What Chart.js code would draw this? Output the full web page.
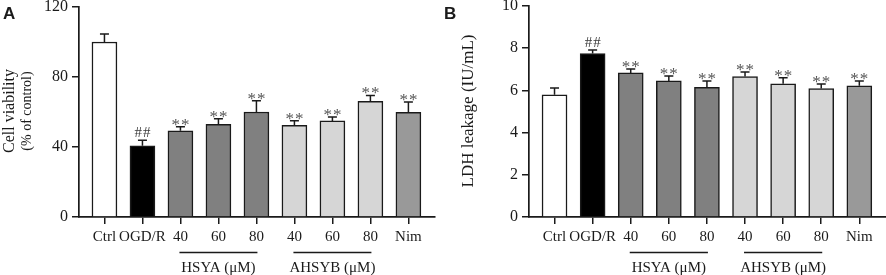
<!DOCTYPE html>
<html>
<head>
<meta charset="utf-8">
<script src="https://cdn.jsdelivr.net/npm/chart.js@4.4.0/dist/chart.umd.min.js"></script>
<style>
    html, body { margin: 0; padding: 0; background: #fff; }
    #wrap { position: relative; width: 886px; height: 275px; overflow: hidden; }
    canvas { position: absolute; top: 0; }
    #chartA { left: 0; }
    #chartB { left: 443px; }
</style>
</head>
<body>
<div id="wrap">
    <canvas id="chartA" width="443" height="275"></canvas>
    <canvas id="chartB" width="443" height="275"></canvas>
</div>
<script>
// Shared categories and bar fills
const categories = ['Ctrl', 'OGD/R', '40', '60', '80', '40', '60', '80', 'Nim'];
const barColors = ['#ffffff', '#000000', '#808080', '#808080', '#808080', '#d6d6d6', '#d6d6d6', '#d6d6d6', '#999999'];

// Panel A - cell viability (% of control)
const viabilityMeans = [100, 40.7, 49.3, 53.0, 60.0, 52.4, 54.9, 66.1, 59.8];
const viabilityErrors = [4.6, 3.1, 2.3, 3.2, 6.5, 2.6, 2.2, 3.4, 5.9];
const viabilityMarks = ['', '##', '**', '**', '**', '**', '**', '**', '**'];
const viabilityTicks = [0, 40, 80, 120];

// Panel B - LDH leakage (IU/mL)
const ldhMeans = [5.79, 7.75, 6.83, 6.45, 6.14, 6.66, 6.31, 6.09, 6.22];
const ldhErrors = [0.32, 0.16, 0.19, 0.23, 0.30, 0.21, 0.29, 0.21, 0.23];
const ldhMarks = ['', '##', '**', '**', '**', '**', '**', '**', '**'];
const ldhTicks = [0, 2, 4, 6, 8, 10];

// Treatment groups underlined below the axis
const groupLabels = ['HSYA (\u03bcM)', 'AHSYB (\u03bcM)'];
const groupFrom = [2, 5];
const groupTo = [4, 7];

const INK = '#1a1a1a';
const SERIF = "'Liberation Serif', 'Times New Roman', serif";

// draws "##" / "**" one glyph at a time so they get the loose spacing of the figure
function drawSpacedMark(ctx, mark, cx, baseline, gap) {
    const chars = mark.split('');
    const start = cx - gap * (chars.length - 1) / 2;
    chars.forEach((ch, k) => ctx.fillText(ch, start + k * gap, baseline));
}

// Error bars, significance marks, group brackets, titles
const annotatePlugin = {
    id: 'annotate',
    afterDatasetsDraw(chart, args, opts) {
        const ctx = chart.ctx;
        const xs = chart.scales.x;
        const ys = chart.scales.y;
        ctx.save();
        ctx.strokeStyle = INK;
        ctx.lineWidth = 1.5;
        ctx.textAlign = 'center';
        ctx.textBaseline = 'alphabetic';
        opts.means.forEach((m, i) => {
            const px = xs.getPixelForValue(i);
            const yBar = ys.getPixelForValue(m);
            const yErr = ys.getPixelForValue(m + opts.errors[i]);
            ctx.beginPath();
            ctx.moveTo(px, yBar);
            ctx.lineTo(px, yErr);
            ctx.moveTo(px - 4.5, yErr);
            ctx.lineTo(px + 4.5, yErr);
            ctx.stroke();

            const mark = opts.marks[i];
            if (mark === '##') {
                ctx.fillStyle = '#3c3c3c';
                ctx.font = '15px ' + SERIF;
                drawSpacedMark(ctx, mark, px, yErr - 3, 8.5);
            } else if (mark) {
                ctx.fillStyle = '#555555';
                ctx.font = '17px ' + SERIF;
                drawSpacedMark(ctx, mark, px, yErr + 3, 9.5);
            }
        });
        ctx.restore();
    },
    afterDraw(chart, args, opts) {
        const ctx = chart.ctx;
        const xs = chart.scales.x;
        ctx.save();
        ctx.fillStyle = INK;
        ctx.strokeStyle = INK;
        ctx.lineWidth = 1.4;

        // group underlines and labels
        groupLabels.forEach((label, g) => {
            const x0 = xs.getPixelForValue(groupFrom[g]);
            const x1 = xs.getPixelForValue(groupTo[g]);
            ctx.beginPath();
            ctx.moveTo(x0 - 1, 252.5);
            ctx.lineTo(x1 + 1, 252.5);
            ctx.stroke();
            ctx.font = '15px ' + SERIF;
            ctx.textAlign = 'center';
            ctx.textBaseline = 'middle';
            ctx.fillText(label, (x0 + x1) / 2, 268.5);
        });

        // rotated y titles
        opts.yTitle.forEach((t) => {
            ctx.save();
            ctx.translate(t.x, 111);
            ctx.rotate(-Math.PI / 2);
            ctx.font = t.size + 'px ' + SERIF;
            ctx.textAlign = 'center';
            ctx.textBaseline = 'middle';
            ctx.fillText(t.text, 0, 0);
            ctx.restore();
        });

        // panel letter
        ctx.font = "bold 17px 'Liberation Sans', Arial, sans-serif";
        ctx.textAlign = 'left';
        ctx.textBaseline = 'alphabetic';
        ctx.fillText(opts.letter, opts.letterX, 19);
        ctx.restore();
    }
};

function buildChart(canvasId, means, errors, marks, yTicks, cfg) {
    const canvas = document.getElementById(canvasId);
    const points = means.map((v, i) => ({ x: i, y: v }));

    return new Chart(canvas.getContext('2d'), {
        type: 'bar',
        data: {
            datasets: [{
                data: points,
                backgroundColor: barColors,
                borderColor: INK,
                borderWidth: 1.5,
                borderSkipped: 'bottom',
                barThickness: 25
            }]
        },
        options: {
            responsive: false,
            animation: false,
            devicePixelRatio: 1,
            layout: { padding: { top: cfg.top, right: cfg.right, bottom: 0, left: 0 } },
            plugins: {
                legend: { display: false },
                tooltip: { enabled: false },
                annotate: {
                    means: means,
                    errors: errors,
                    marks: marks,
                    yTitle: cfg.yTitle,
                    letter: cfg.letter,
                    letterX: cfg.letterX
                }
            },
            scales: {
                x: {
                    type: 'linear',
                    offset: false,
                    min: -0.67,
                    max: 8.7,
                    afterBuildTicks: (s) => { s.ticks = categories.map((c, i) => ({ value: i })); },
                    afterFit: (s) => { s.height = 58; s.paddingLeft = 0; s.paddingRight = 0; },
                    ticks: {
                        autoSkip: false,
                        maxRotation: 0,
                        padding: 4,
                        color: INK,
                        font: { family: SERIF, size: 15 },
                        callback: (v) => categories[v]
                    },
                    grid: { offset: false, drawOnChartArea: false, drawTicks: true, tickLength: 7, color: INK, lineWidth: 1.5 },
                    border: { display: true, color: INK, width: 1.7 }
                },
                y: {
                    min: yTicks[0],
                    max: yTicks[yTicks.length - 1],
                    afterBuildTicks: (s) => { s.ticks = yTicks.map(v => ({ value: v })); },
                    afterFit: (s) => { s.width = cfg.axisLeft; s.paddingTop = 0; s.paddingBottom = 0; },
                    ticks: {
                        padding: 4,
                        color: INK,
                        font: { family: SERIF, size: 16 }
                    },
                    grid: { drawOnChartArea: false, drawTicks: true, tickLength: 7, color: INK, lineWidth: 1.5 },
                    border: { display: true, color: INK, width: 1.7 }
                }
            }
        },
        plugins: [annotatePlugin]
    });
}

buildChart('chartA', viabilityMeans, viabilityErrors, viabilityMarks, viabilityTicks, {
    top: 7, right: 8, axisLeft: 79, letter: 'A', letterX: 3,
    yTitle: [
        { text: 'Cell viability', x: 9.5, size: 16 },
        { text: '(% of control)', x: 27, size: 14 }
    ]
});

buildChart('chartB', ldhMeans, ldhErrors, ldhMarks, ldhTicks, {
    top: 6, right: 0, axisLeft: 86, letter: 'B', letterX: 1,
    yTitle: [
        { text: 'LDH leakage (IU/mL)', x: 26, size: 17 }
    ]
});
</script>
</body>
</html>
